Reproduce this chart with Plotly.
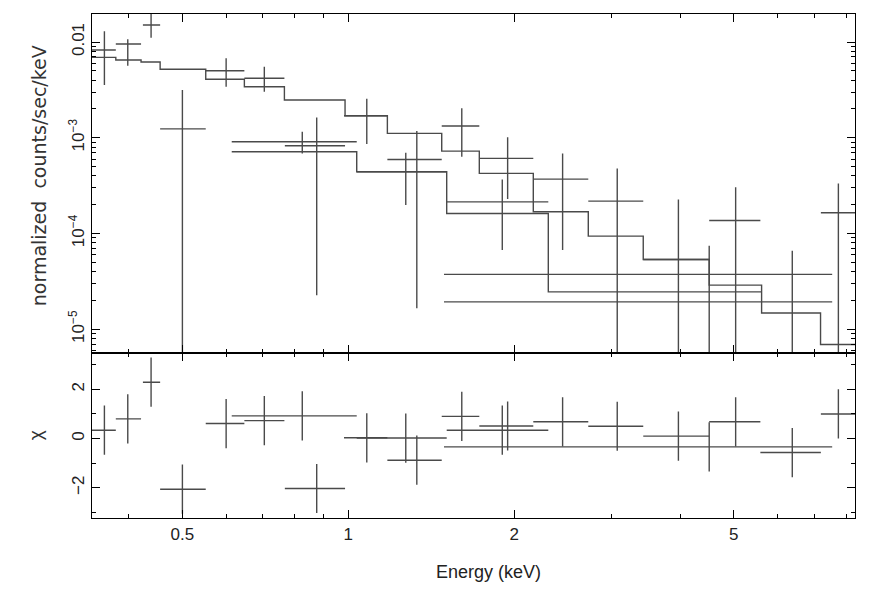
import plotly.graph_objects as go
from plotly.subplots import make_subplots

# ---- spectrum 1 (fine binning) ----
e1_lo = [0.3425, 0.3786, 0.424, 0.4556, 0.5512, 0.6477, 0.767, 0.982, 1.177, 1.477, 1.728, 2.165, 2.724, 3.427, 4.514, 5.589, 7.196]
e1_hi = [0.3786, 0.4207, 0.4556, 0.5512, 0.6477, 0.7656, 0.9863, 1.177, 1.477, 1.728, 2.165, 2.724, 3.427, 4.514, 5.589, 7.196, 8.33]
e1_c = [0.361, 0.398, 0.4387, 0.500, 0.6002, 0.704, 0.8762, 1.080, 1.331, 1.606, 1.945, 2.447, 3.074, 3.969, 5.041, 6.386, 7.742]
f1 = [8.25e-3, 9.53e-3, 1.505e-2, 1.24e-3, 5.01e-3, 4.18e-3, 8.25e-4, 1.70e-3, 5.94e-4, 1.33e-3,
      6.09e-4, 3.70e-4, 2.18e-4, 5.36e-5, 1.37e-4, 1.0e-6, 1.65e-4]
f1_up = [1.30e-2, 1.067e-2, 2.3e-2, 3.15e-3, 6.76e-3, 5.52e-3, 1.63e-3, 2.56e-3, 1.18e-3, 2.03e-3,
         1.01e-3, 6.87e-4, 4.79e-4, 2.27e-4, 3.05e-4, 6.59e-5, 3.34e-4]
f1_dn = [3.55e-3, 5.65e-3, 1.109e-2, 1e-7, 3.41e-3, 3.03e-3, 2.27e-5, 8.59e-4, 1.66e-5, 6.33e-4,
         2.29e-4, 6.71e-5, 1e-7, 1e-7, 1e-7, 1e-7, 1e-7]
mod1_edges = [0.3425, 0.3786, 0.4207, 0.4556, 0.5512, 0.6477, 0.7656, 0.9863, 1.177, 1.477, 1.728,
              2.165, 2.724, 3.427, 4.514, 5.618, 7.186, 8.33]
mod1 = [6.92e-3, 6.49e-3, 6.18e-3, 5.19e-3, 4.08e-3, 3.41e-3, 2.48e-3, 1.70e-3, 1.111e-3, 7.26e-4,
        4.25e-4, 1.69e-4, 9.40e-5, 5.36e-5, 2.89e-5, 1.48e-5, 6.93e-6]
chi1 = [0.34, 0.80, 2.29, -2.06, 0.61, 0.73, -2.03, 0.03, -0.88, 0.90, 0.51, 0.68, 0.50, 0.10, 0.68, -0.57, 1.00]

# ---- spectrum 2 ----
e2_lo = [0.6144, 1.0356, 1.508]
e2_hi = [1.0356, 1.508, 2.305]
e2_c = [0.8249, 1.271, 1.902]
f2 = [9.08e-4, 4.42e-4, 2.14e-4]
f2_up = [1.155e-3, 6.97e-4, 3.67e-4]
f2_dn = [6.87e-4, 1.98e-4, 6.71e-5]
mod2_edges = [0.6144, 1.0356, 1.508, 2.305, 5.618]
mod2 = [7.14e-4, 4.42e-4, 1.62e-4, 2.46e-5]
chi2 = [0.92, 0.02, 0.34]

# ---- spectrum 3 (one wide bin) ----
e3_lo = [1.491]
e3_hi = [7.544]
e3_c = [4.514]
f3 = [1.93e-5]
f3_up = [7.43e-5]
f3_dn = [1e-7]
mod3_edges = [1.491, 7.544]
mod3 = [3.74e-5]
chi3 = [-0.34]

COL = "#4a4a4a"
FONT = "Liberation Sans"


def crosses(xc, xlo, xhi, y, ylo, yhi):
    xs, ys = [], []
    for i in range(len(xc)):
        xs += [xlo[i], xhi[i], None, xc[i], xc[i], None]
        ys += [y[i], y[i], None, ylo[i], yhi[i], None]
    return xs, ys


def line(xs, ys, row, shape="linear", width=1.4):
    fig.add_trace(go.Scatter(x=xs, y=ys, mode="lines", line=dict(color=COL, width=width, shape=shape),
                             hoverinfo="skip", showlegend=False), row=row, col=1)


fig = make_subplots(rows=2, cols=1, shared_xaxes=True, vertical_spacing=0, row_heights=[0.673, 0.327])

for lo, hi, c, f, up, dn in [(e1_lo, e1_hi, e1_c, f1, f1_up, f1_dn),
                             (e2_lo, e2_hi, e2_c, f2, f2_up, f2_dn),
                             (e3_lo, e3_hi, e3_c, f3, f3_up, f3_dn)]:
    xs, ys = crosses(c, lo, hi, f, dn, up)
    line(xs, ys, 1)

for edges, m in [(mod1_edges, mod1), (mod2_edges, mod2), (mod3_edges, mod3)]:
    line(edges, m + [m[-1]], 1, shape="hv")

fig.add_hline(y=0, line=dict(color="black", width=1.2, dash="dash"), row=2, col=1)

for lo, hi, c, ch in [(e1_lo, e1_hi, e1_c, chi1), (e2_lo, e2_hi, e2_c, chi2), (e3_lo, e3_hi, e3_c, chi3)]:
    xs, ys = crosses(c, lo, hi, ch, [v - 1 for v in ch], [v + 1 for v in ch])
    line(xs, ys, 2)

ax_common = dict(showline=True, linecolor="black", linewidth=1.4, mirror="ticks", ticks="inside",
                 tickcolor="black", tickwidth=1.4, showgrid=False, zeroline=False,
                 tickfont=dict(family=FONT, size=17, color="#222"))

minor_x = [0.4, 0.6, 0.7, 0.8, 0.9, 3, 4, 6, 7, 8]
for ax in ["xaxis", "xaxis2"]:
    fig.layout[ax].update(type="log", range=[-0.465, 0.919], tickvals=[0.5, 1, 2, 5],
                          ticktext=["0.5", "1", "2", "5"], ticklen=8,
                          minor=dict(tickmode="array", tickvals=minor_x, ticks="inside", ticklen=4,
                                     tickcolor="black", tickwidth=1.2, showgrid=False),
                          **ax_common)
fig.layout.xaxis.showticklabels = False

minor_y = [m * 10.0 ** d for d in range(-6, -1) for m in range(2, 10)]
fig.layout.yaxis.update(type="log", range=[-5.25, -1.707], tickvals=[1e-5, 1e-4, 1e-3, 1e-2],
                        ticktext=["10<sup>−5</sup>", "10<sup>−4</sup>", "10<sup>−3</sup>", "0.01"],
                        tickangle=-90, ticklen=8,
                        minor=dict(tickmode="array", tickvals=minor_y, ticks="inside", ticklen=4,
                                   tickcolor="black", tickwidth=1.2, showgrid=False),
                        **ax_common)
fig.layout.yaxis2.update(range=[-3.23, 3.47], tickvals=[-2, 0, 2], ticktext=["−2", "0", "2"],
                         tickangle=-90, ticklen=8,
                         minor=dict(tickmode="array", tickvals=[-3, -1, 1, 3], ticks="inside", ticklen=4,
                                    tickcolor="black", tickwidth=1.2, showgrid=False),
                         **ax_common)

fig.add_annotation(text="normalized  counts/sec/keV", xref="paper", yref="paper", x=-0.0695, y=0.68,
                   textangle=-90, showarrow=False, xanchor="center", yanchor="middle",
                   font=dict(family="DejaVu Sans", size=19, color="#333"))
fig.add_annotation(text="χ", xref="paper", yref="paper", x=-0.073, y=0.165, textangle=-90,
                   showarrow=False, xanchor="center", yanchor="middle",
                   font=dict(family=FONT, size=19, color="#333"))
fig.add_annotation(text="Energy (keV)", xref="paper", yref="paper", x=0.5203, y=-0.1065,
                   showarrow=False, xanchor="center", yanchor="middle",
                   font=dict(family=FONT, size=18, color="#222"))

# page body adds an 8px offset, so margins are shifted to keep the frame in place
fig.update_layout(width=872, height=603, margin=dict(l=84, r=25, t=6, b=93),
                  plot_bgcolor="white", paper_bgcolor="white", showlegend=False)

fig.write_html("out.html")
